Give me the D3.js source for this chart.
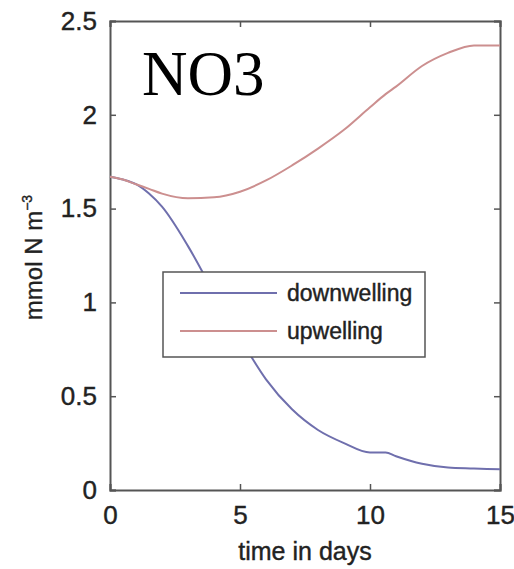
<!DOCTYPE html>
<html>
<head>
<meta charset="utf-8">
<script src="https://cdn.jsdelivr.net/npm/d3@7"></script>
<style>
  body { margin: 0; background: #fff; }
  svg text { font-family: "Liberation Sans", Arial, sans-serif; }
</style>
</head>
<body>
<div id="chart"></div>
<script>
// values
const days = [0, 0.5, 1, 1.5, 2, 3, 4, 5, 6, 7, 8, 9, 10, 10.6, 11, 12, 13, 14, 15];
const downwelling = [1.67, 1.655, 1.63, 1.58, 1.51, 1.30, 1.05, 0.81, 0.59, 0.43, 0.32, 0.25, 0.20, 0.20, 0.18, 0.14, 0.12, 0.115, 0.11];
const upwelling = [1.67, 1.655, 1.63, 1.605, 1.58, 1.555, 1.56, 1.59, 1.65, 1.73, 1.82, 1.92, 2.04, 2.11, 2.15, 2.26, 2.33, 2.37, 2.37];
const xTicks = [0, 5, 10, 15];
const yTicks = [0, 0.5, 1, 1.5, 2, 2.5];
const seriesNames = ["downwelling", "upwelling"];
const seriesColors = ["#6f6fad", "#cc8f8f"];

const width = 514, height = 569;
const margin = {top: 21, right: 14, bottom: 79, left: 110};
const w = width - margin.left - margin.right;
const h = height - margin.top - margin.bottom;

const svg = d3.select("#chart").append("svg")
  .attr("width", width).attr("height", height);

const g = svg.append("g").attr("transform", `translate(${margin.left},${margin.top})`);

const x = d3.scaleLinear().domain([0, 15]).range([0, w]);
const y = d3.scaleLinear().domain([0, 2.5]).range([h, 0]);

const fmt = d => d3.format("")(d);

// axes, matlab style: ticks inside on all four sides
const xAxis = g.append("g").attr("transform", `translate(0,${h})`)
  .call(d3.axisBottom(x).tickValues(xTicks).tickSize(-6).tickPadding(16).tickFormat(fmt));
const xTop = g.append("g")
  .call(d3.axisTop(x).tickValues(xTicks).tickSize(-6).tickFormat(""));
const yAxis = g.append("g")
  .call(d3.axisLeft(y).tickValues(yTicks).tickSize(-6).tickPadding(13).tickFormat(fmt));
const yRight = g.append("g").attr("transform", `translate(${w},0)`)
  .call(d3.axisRight(y).tickValues(yTicks).tickSize(-6).tickFormat(""));

[xAxis, xTop, yAxis, yRight].forEach(a => {
  a.select(".domain").attr("stroke", "#555").attr("stroke-width", 2);
  a.selectAll(".tick line").attr("stroke", "#555").attr("stroke-width", 1.5);
  a.selectAll(".tick text").attr("fill", "#222").attr("font-size", 26)
    .attr("stroke", "#222").attr("stroke-width", 0.4);
});

// lines
const line = d3.line()
  .x((d, i) => x(days[i]))
  .y(d => y(d))
  .curve(d3.curveMonotoneX);

[downwelling, upwelling].forEach((s, k) => {
  g.append("path")
    .datum(s)
    .attr("fill", "none")
    .attr("stroke", seriesColors[k])
    .attr("stroke-width", 2)
    .attr("d", line);
});

// title inside the axes
g.append("text")
  .attr("x", 32).attr("y", 74)
  .style("font-family", "'Liberation Serif', 'Times New Roman', serif")
  .attr("font-size", 63)
  .attr("fill", "#000")
  .text("NO3");

// legend
const legend = g.append("g").attr("transform", "translate(53,251)");
legend.append("rect")
  .attr("width", 262).attr("height", 85)
  .attr("fill", "#fff").attr("stroke", "#555").attr("stroke-width", 1.5);
seriesNames.forEach((name, i) => {
  const yy = 21 + i * 38;
  legend.append("line")
    .attr("x1", 17).attr("x2", 114).attr("y1", yy).attr("y2", yy)
    .attr("stroke", seriesColors[i]).attr("stroke-width", 2);
  legend.append("text")
    .attr("x", 124).attr("y", yy + 8)
    .attr("font-size", 23).attr("fill", "#222")
    .attr("stroke", "#222").attr("stroke-width", 0.4)
    .text(name);
});

// axis labels
svg.append("text")
  .attr("x", margin.left + w / 2).attr("y", 560)
  .attr("text-anchor", "middle")
  .attr("font-size", 25).attr("fill", "#222")
  .attr("stroke", "#222").attr("stroke-width", 0.4)
  .text("time in days");

const yl = svg.append("text")
  .attr("transform", `translate(42,${margin.top + h / 2 + 2}) rotate(-90)`)
  .attr("text-anchor", "middle")
  .attr("font-size", 24).attr("fill", "#222")
  .attr("stroke", "#222").attr("stroke-width", 0.4);
yl.append("tspan").text("mmol N m");
yl.append("tspan").attr("dy", -10).attr("font-size", 14).text("−3");
</script>
</body>
</html>
